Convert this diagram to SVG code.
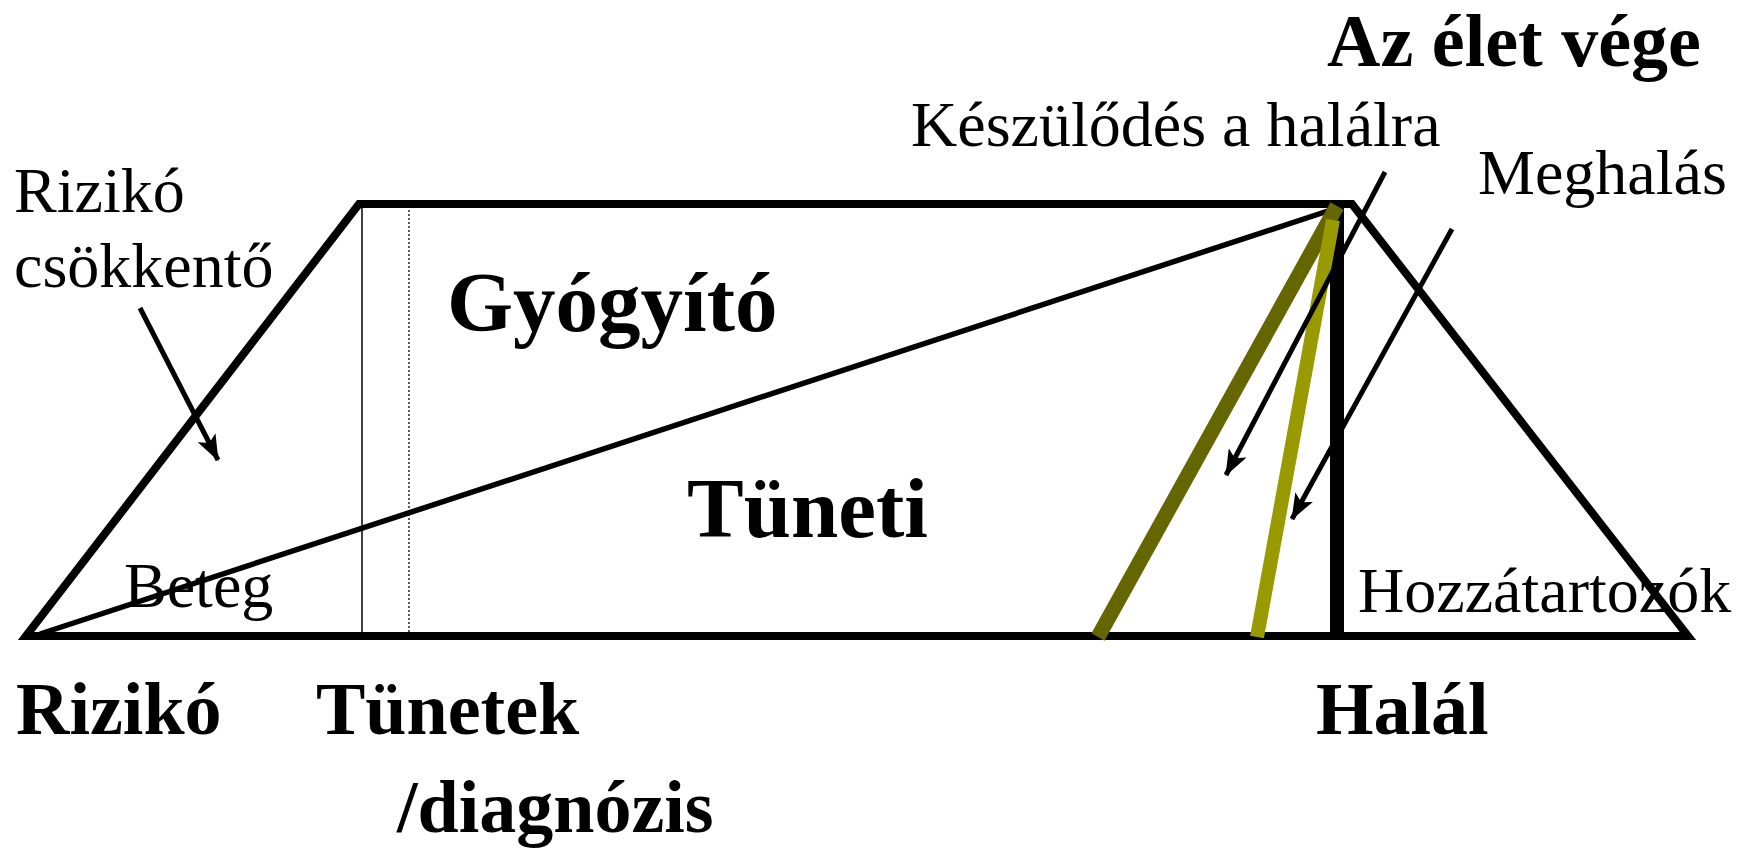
<svg xmlns="http://www.w3.org/2000/svg" width="1752" height="848" viewBox="0 0 1752 848">
  <defs>
    <style>
      .reg { font-family: "Liberation Serif", "Times New Roman", serif; font-size: 64px; fill: #000; }
      .bold { font-family: "Liberation Serif", "Times New Roman", serif; font-size: 74px; font-weight: bold; fill: #000; }
      .big { font-family: "Liberation Serif", "Times New Roman", serif; font-size: 85px; font-weight: bold; fill: #000; }
      .frame { fill: none; stroke: #000; stroke-width: 8; stroke-linejoin: miter; stroke-miterlimit: 10; }
      .arrow { fill: none; stroke: #000; stroke-width: 5; }
    </style>
    <marker id="ah" viewBox="0 0 26 20" refX="25" refY="10" markerWidth="26" markerHeight="20" markerUnits="userSpaceOnUse" orient="auto">
      <path d="M0,0 L26,10 L0,20 L6,10 z" fill="#000"/>
    </marker>
  </defs>
  <rect width="1752" height="848" fill="#fff"/>

  <g id="shape">
    <polygon class="frame" points="26,636 359,204 1352,204 1688,636"/>
    <line x1="362" y1="206" x2="362" y2="632" stroke="#000" stroke-width="1.5"/>
    <line x1="409" y1="206" x2="409" y2="632" stroke="#000" stroke-width="1.3" stroke-dasharray="2,2"/>
    <line x1="40" y1="634" x2="1334" y2="209" stroke="#000" stroke-width="5.5"/>
    <line x1="1337" y1="206" x2="1337" y2="634" stroke="#000" stroke-width="14"/>
    <line x1="1098" y1="637" x2="1337" y2="206" stroke="#666600" stroke-width="15"/>
    <line x1="1257" y1="637" x2="1333" y2="220" stroke="#999900" stroke-width="14"/>
  </g>

  <g id="connectors">
    <line class="arrow" x1="140" y1="308" x2="218" y2="460" marker-end="url(#ah)"/>
    <line class="arrow" x1="1385" y1="172" x2="1226" y2="475" marker-end="url(#ah)"/>
    <line class="arrow" x1="1452" y1="229" x2="1292" y2="519" marker-end="url(#ah)"/>
  </g>

  <g id="label-rizikocsokkento">
    <text class="reg" x="14" y="212">Rizikó</text>
    <text class="reg" x="14" y="287">csökkentő</text>
  </g>
  <g id="label-beteg"><text class="reg" x="124" y="607">Beteg</text></g>
  <g id="label-gyogyito"><text class="big" x="447" y="331">Gyógyító</text></g>
  <g id="label-tuneti"><text class="big" x="687" y="537">Tüneti</text></g>
  <g id="label-keszulodes"><text class="reg" x="911" y="146">Készülődés a halálra</text></g>
  <g id="label-meghalas"><text class="reg" x="1478" y="194">Meghalás</text></g>
  <g id="label-hozzatartozok"><text class="reg" x="1358" y="612">Hozzátartozók</text></g>
  <g id="label-azeletvege"><text class="bold" x="1327" y="66">Az élet vége</text></g>
  <g id="label-riziko"><text class="bold" x="16" y="734">Rizikó</text></g>
  <g id="label-tunetek">
    <text class="bold" x="316" y="734">Tünetek</text>
    <text class="bold" x="397" y="832">/diagnózis</text>
  </g>
  <g id="label-halal"><text class="bold" x="1316" y="734">Halál</text></g>
</svg>
